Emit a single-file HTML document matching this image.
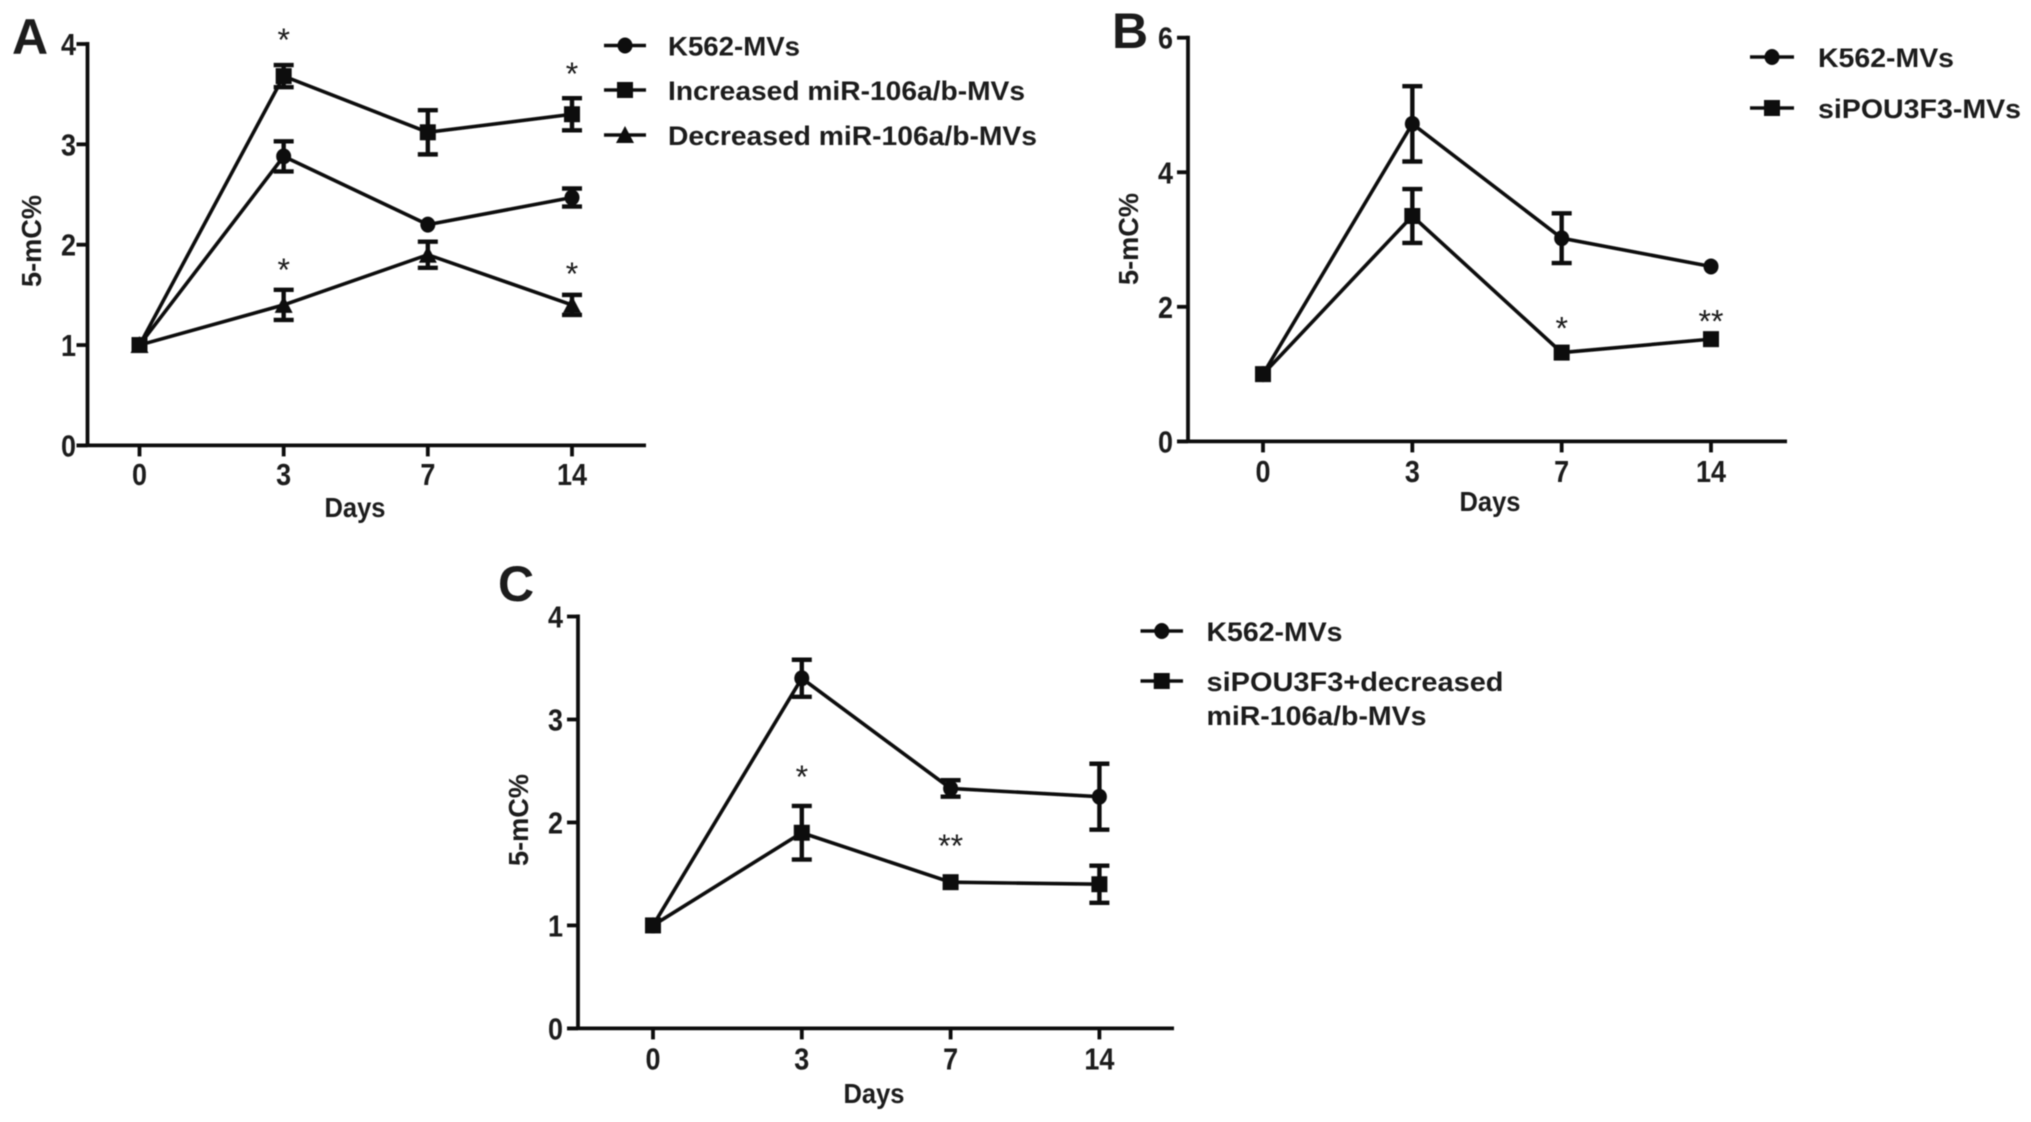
<!DOCTYPE html>
<html lang="en">
<head>
<meta charset="utf-8">
<title>5-mC% over days</title>
<style>
html,body{margin:0;padding:0;background:#fff;width:2031px;height:1122px;overflow:hidden}
svg{display:block}
text{font-family:"Liberation Sans",Arial,sans-serif;font-weight:700;fill:#1a1a1a}
</style>
</head>
<body>
<svg id="chart" xmlns="http://www.w3.org/2000/svg" width="2031" height="1122" viewBox="0 0 2031 1122">
<defs><filter id="soft" x="-5%" y="-5%" width="110%" height="110%"><feGaussianBlur stdDeviation="0.65"/></filter></defs>
<g id="root" filter="url(#soft)">
<text x="12" y="54" font-size="50">A</text>
<text x="1112" y="48" font-size="50">B</text>
<text x="498" y="601" font-size="50">C</text>
</g>
</svg>
<script>
const categories = ['0', '3', '7', '14'];
const xAxisTitle = 'Days';
const yAxisTitle = '5-mC%';

const ticksA = [0, 1, 2, 3, 4];
const a_k562 = [1, 2.88, 2.2, 2.47];
const a_k562Err = [0, 0.15, 0.02, 0.09];
const a_increased = [1, 3.68, 3.12, 3.3];
const a_increasedErr = [0, 0.11, 0.22, 0.16];
const a_decreased = [1, 1.4, 1.9, 1.4];
const a_decreasedErr = [0, 0.15, 0.13, 0.1];
const a_starCategories = ['3', '14', '3', '14'];
const a_starValues = [4.05, 3.71, 1.76, 1.72];
const a_starLabels = ['*', '*', '*', '*'];

const ticksB = [0, 2, 4, 6];
const b_k562 = [1, 4.72, 3.02, 2.6];
const b_k562Err = [0, 0.56, 0.37, 0.02];
const b_si = [1, 3.35, 1.32, 1.52];
const b_siErr = [0, 0.4, 0.02, 0.02];
const b_starCategories = ['7', '14'];
const b_starValues = [1.69, 1.8];
const b_starLabels = ['*', '**'];

const ticksC = [0, 1, 2, 3, 4];
const c_k562 = [1, 3.4, 2.33, 2.25];
const c_k562Err = [0, 0.18, 0.08, 0.32];
const c_si = [1, 1.9, 1.42, 1.4];
const c_siErr = [0, 0.26, 0.02, 0.18];
const c_starCategories = ['3', '7'];
const c_starValues = [2.45, 1.78];
const c_starLabels = ['*', '**'];

const SVGNS = 'http://www.w3.org/2000/svg';
const INK = '#111';
const root = document.getElementById('root');

function make(parent, tag, attrs) {
  const n = document.createElementNS(SVGNS, tag);
  for (const k in attrs) n.setAttribute(k, attrs[k]);
  parent.appendChild(n);
  return n;
}

function label(parent, str, x, y, size, anchor, len, name) {
  const t = make(parent, 'text', {x: x, y: y, 'font-size': size, 'text-anchor': anchor});
  t.textContent = str;
  if (len) {
    t.setAttribute('textLength', len);
    t.setAttribute('lengthAdjust', 'spacingAndGlyphs');
  }
  
  
  return t;
}

function marker(parent, shape, x, y, name) {
  let m;
  if (shape === 'circle') {
    m = make(parent, 'ellipse', {cx: x, cy: y, rx: 7.5, ry: 8, fill: INK});
  } else if (shape === 'square') {
    m = make(parent, 'rect', {x: x - 8, y: y - 8, width: 16, height: 16, fill: INK});
  } else {
    m = make(parent, 'polygon', {points: (x - 9) + ',' + (y + 8) + ' ' + (x + 9) + ',' + (y + 8) + ' ' + x + ',' + (y - 9), fill: INK});
  }
  
  
}

function drawPanel(p) {
  const g = make(root, 'g', {});
  
  

  const yScale = v => p.y0 + (p.yTop - p.y0) * v / p.yMax;
  const xScale = c => p.xFirst + (p.xLast - p.xFirst) * categories.indexOf(c) / (categories.length - 1);

  const axes = make(g, 'g', {stroke: INK, 'stroke-width': 3.8, fill: 'none'});
  
  
  const yLine = make(axes, 'line', {x1: p.axisX, x2: p.axisX, y1: yScale(p.yMax) - 2, y2: p.y0});
  
  
  const xLine = make(axes, 'line', {x1: p.axisX - 11, x2: p.axisEnd, y1: p.y0, y2: p.y0});
  
  

  p.ticks.forEach(v => {
    const tk = make(axes, 'line', {x1: p.axisX - 11, x2: p.axisX, y1: yScale(v), y2: yScale(v)});
    
    
    label(g, String(v), p.tickRight, yScale(v) + 11, 31, 'end', 15, 'y-tick-label');
  });
  categories.forEach(c => {
    const tk = make(axes, 'line', {x1: xScale(c), x2: xScale(c), y1: p.y0, y2: p.y0 + 11});
    
    
    label(g, c, xScale(c), p.xLabelY + 11, 31, 'middle', 15 * c.length, 'x-tick-label');
  });

  label(g, xAxisTitle, p.xTitleX, p.xTitleY + 9, 28, 'middle', 61, 'x-axis-title');
  const yt = label(g, yAxisTitle, 0, 0, 28, 'middle', 92, 'y-axis-title');
  yt.setAttribute('transform', 'translate(' + (p.yTitleX + 9) + ',' + p.yTitleY + ') rotate(-90)');

  p.series.forEach(s => {
    const sg = make(g, 'g', {});
    
    
    const pts = categories.map((c, i) => xScale(c) + ',' + yScale(s.values[i])).join(' ');
    const line = make(sg, 'polyline', {points: pts, fill: 'none', stroke: INK, 'stroke-width': 3.6, 'stroke-linejoin': 'miter'});
    
    
    categories.forEach((c, i) => {
      const x = xScale(c);
      const e = s.errors[i];
      if (e > 0.03) {
        const hi = yScale(s.values[i] + e);
        const lo = yScale(s.values[i] - e);
        const bar = make(sg, 'path', {d: 'M' + x + ' ' + hi + 'V' + lo + 'M' + (x - 10) + ' ' + hi + 'H' + (x + 10) + 'M' + (x - 10) + ' ' + lo + 'H' + (x + 10), stroke: INK, 'stroke-width': 4.4, fill: 'none'});
        
        
      }
      marker(sg, s.shape, x, yScale(s.values[i]), 'point');
    });
  });

  p.stars.categories.forEach((c, i) => {
    const t = label(g, p.stars.labels[i], xScale(c), yScale(p.stars.values[i]) + 12, 32, 'middle', 0, 'significance-marker');
    t.style.fontWeight = '400';
  });

  const lg = make(g, 'g', {});
  
  
  p.series.forEach(s => {
    const h = make(lg, 'line', {x1: p.handleX1, x2: p.handleX2, y1: s.legendY, y2: s.legendY, stroke: INK, 'stroke-width': 3.6});
    
    
    marker(lg, s.shape, (p.handleX1 + p.handleX2) / 2, s.legendY, 'legend-marker');
    s.legendLines.forEach(l => {
      label(lg, l.text, p.legendTextX, l.y + 10, 27, 'start', l.len, 'legend-entry');
    });
  });
}

drawPanel({
  id: 'a', y0: 445.4, yTop: 44, yMax: 4, axisX: 87.5, axisEnd: 646, xFirst: 139.5, xLast: 572,
  ticks: ticksA, tickRight: 76, xLabelY: 474, xTitleX: 355, xTitleY: 508, yTitleX: 32, yTitleY: 241,
  handleX1: 604, handleX2: 646, legendTextX: 668,
  stars: {categories: a_starCategories, values: a_starValues, labels: a_starLabels},
  series: [
    {name: 'k562-mvs', shape: 'circle', values: a_k562, errors: a_k562Err, legendY: 45.5, legendLines: [{text: 'K562-MVs', y: 45.5, len: 132}]},
    {name: 'increased-mir-106ab-mvs', shape: 'square', values: a_increased, errors: a_increasedErr, legendY: 90, legendLines: [{text: 'Increased miR-106a/b-MVs', y: 90, len: 357}]},
    {name: 'decreased-mir-106ab-mvs', shape: 'triangle', values: a_decreased, errors: a_decreasedErr, legendY: 135, legendLines: [{text: 'Decreased miR-106a/b-MVs', y: 135, len: 369}]}
  ]
});

drawPanel({
  id: 'b', y0: 441.4, yTop: 37.7, yMax: 6, axisX: 1188, axisEnd: 1787, xFirst: 1263, xLast: 1711,
  ticks: ticksB, tickRight: 1173, xLabelY: 471, xTitleX: 1490, xTitleY: 502, yTitleX: 1129, yTitleY: 239,
  handleX1: 1750, handleX2: 1794, legendTextX: 1818,
  stars: {categories: b_starCategories, values: b_starValues, labels: b_starLabels},
  series: [
    {name: 'k562-mvs', shape: 'circle', values: b_k562, errors: b_k562Err, legendY: 57, legendLines: [{text: 'K562-MVs', y: 57, len: 136}]},
    {name: 'sipou3f3-mvs', shape: 'square', values: b_si, errors: b_siErr, legendY: 108, legendLines: [{text: 'siPOU3F3-MVs', y: 108, len: 203}]}
  ]
});

drawPanel({
  id: 'c', y0: 1028.4, yTop: 616.5, yMax: 4, axisX: 578, axisEnd: 1174, xFirst: 653, xLast: 1099.4,
  ticks: ticksC, tickRight: 563, xLabelY: 1058.5, xTitleX: 874, xTitleY: 1094, yTitleX: 519, yTitleY: 820,
  handleX1: 1140.5, handleX2: 1183, legendTextX: 1206.5,
  stars: {categories: c_starCategories, values: c_starValues, labels: c_starLabels},
  series: [
    {name: 'k562-mvs', shape: 'circle', values: c_k562, errors: c_k562Err, legendY: 631, legendLines: [{text: 'K562-MVs', y: 631, len: 136}]},
    {name: 'sipou3f3-decreased-mir-106ab-mvs', shape: 'square', values: c_si, errors: c_siErr, legendY: 681, legendLines: [{text: 'siPOU3F3+decreased', y: 681, len: 297}, {text: 'miR-106a/b-MVs', y: 715, len: 220}]}
  ]
});
</script>
</body>
</html>
